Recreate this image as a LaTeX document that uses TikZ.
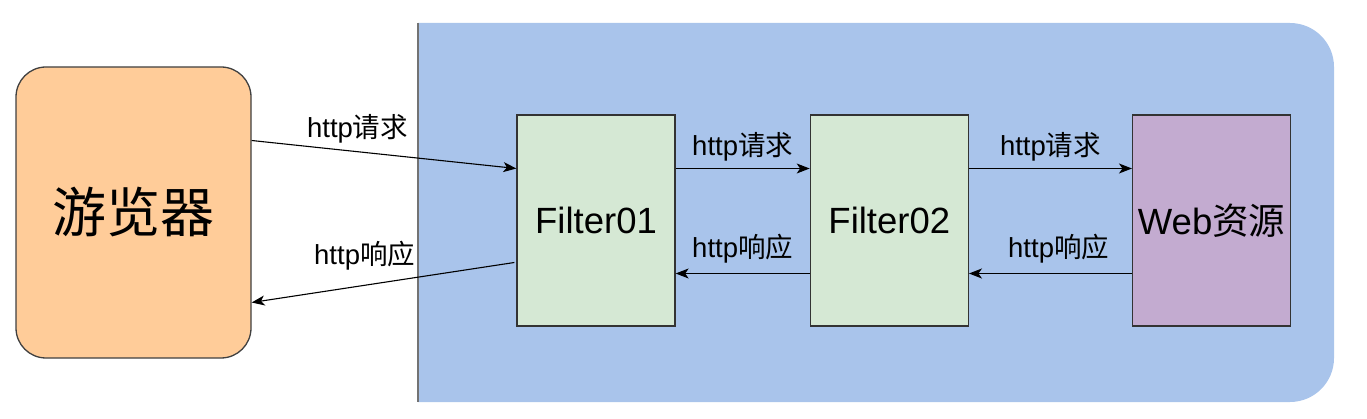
\documentclass[tikz,border=0pt]{standalone}
\usepackage{fontspec}
\setmainfont{Liberation Sans}
\newfontfamily\cjk{Noto Sans CJK SC}
\usetikzlibrary{positioning,arrows.meta}

\definecolor{paneblue}{HTML}{A9C4EB}
\definecolor{browserfill}{HTML}{FFCC99}
\definecolor{filterfill}{HTML}{D5E8D4}
\definecolor{webfill}{HTML}{C3ABD0}

\tikzset{
	box/.style={draw=black!80, line width=1.3pt, minimum width=158pt, minimum height=211pt,
		inner sep=0pt, font=\fontsize{36.5}{40}\selectfont},
	link/.style={-{Stealth[length=13pt, width=10pt, inset=3.5pt]}, line width=1.1pt},
	tag/.style={inner sep=0pt, font=\fontsize{27.5}{30}\selectfont}
}

\begin{document}
\begin{tikzpicture}[x=1pt, y=-1pt]
	\useasboundingbox (0,0) rectangle (1367,419);
	
	% container
	\begin{scope}
		\clip (418,0) rectangle (1367,419);
		\fill[paneblue, rounded corners=44pt] (360,23) rectangle (1334,402);
	\end{scope}
	\draw[line width=2pt, black!55] (418,23) -- (418,402);
	
	\node[draw=black!75, line width=1.3pt, fill=browserfill, rounded corners=30pt,
		minimum width=235pt, minimum height=291pt, font=\cjk\fontsize{54}{60}\selectfont]
		(browser) at (133.5,212.5) {游览器};
	
	\node[box, fill=filterfill] (filter01) at (596,220.5) {Filter01};
	\node[box, fill=filterfill, right=134pt of filter01] (filter02) {Filter02};
	\node[box, fill=webfill, right=163pt of filter02] (web) {Web{\cjk 资源}};
	
	\draw[link] ([yshift=72pt]browser.east) -- node[tag, pos=0.4, above=8pt] {http{\cjk 请求}} ([yshift=52pt]filter01.west);
	\draw[link] ([xshift=-2pt, yshift=-42pt]filter01.west) -- node[tag, pos=0.57, above=15pt] {http{\cjk 响应}} ([yshift=-90pt]browser.east);
	
	\draw[link] ([yshift=52pt]filter01.east) -- node[tag, midway, above=7pt] {http{\cjk 请求}} ([yshift=52pt]filter02.west);
	\draw[link] ([yshift=-53pt]filter02.west) -- node[tag, midway, above=10pt] {http{\cjk 响应}} ([yshift=-53pt]filter01.east);
	
	\draw[link] ([yshift=52pt]filter02.east) -- node[tag, midway, above=7pt] {http{\cjk 请求}} ([yshift=52pt]web.west);
	\draw[link] ([yshift=-53pt]web.west) -- node[tag, pos=0.45, above=10pt] {http{\cjk 响应}} ([yshift=-53pt]filter02.east);
\end{tikzpicture}
\end{document}
